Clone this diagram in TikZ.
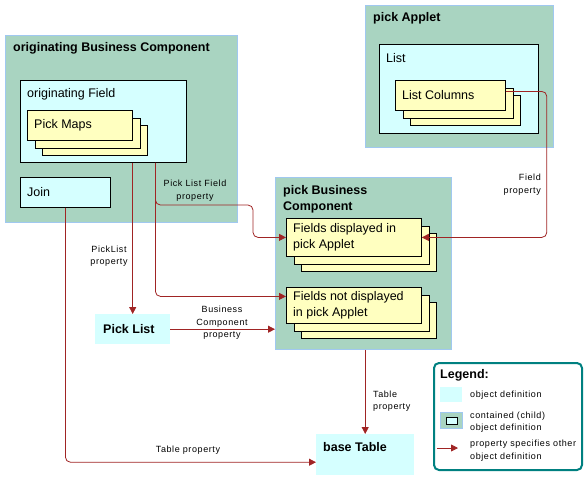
\documentclass[tikz,border=0pt]{standalone}
\usepackage{fontspec}
\setmainfont{Liberation Sans}
\newfontfamily\petitefonte[LetterSpace=6.5]{Liberation Sans}
\usetikzlibrary{positioning, arrows.meta, calc}
\definecolor{vertboite}{RGB}{169,212,193}
\definecolor{bordvert}{RGB}{160,200,240}
\definecolor{cyanclair}{RGB}{213,255,255}
\definecolor{jauneclair}{RGB}{255,255,192}
\definecolor{rougefleche}{RGB}{160,36,36}
\definecolor{sarcelle}{RGB}{0,128,128}

\tikzset{
  conteneur/.style={fill=vertboite, draw=bordvert, line width=0.8pt, anchor=north west, inner sep=0pt},
  objet/.style={fill=cyanclair, anchor=north west, inner sep=0pt},
  enfant/.style={fill=cyanclair, draw=black, line width=0.8pt, anchor=north west, inner sep=0pt},
  carte/.style={fill=jauneclair, draw=black, line width=0.8pt, anchor=north west, inner sep=0pt},
  cadre/.style={draw=sarcelle, line width=2pt, rounded corners=5pt, anchor=north west, inner sep=0pt},
  lien/.style={draw=rougefleche, line width=0.8pt, rounded corners=5pt, -{Triangle[length=7pt,width=7pt]}},
  etiq/.style={font=\petitefonte\fontsize{9}{12.5}\selectfont, align=center, inner sep=0pt},
  titre/.style={font=\bfseries\fontsize{12.5}{16}\selectfont, anchor=west, inner sep=0pt},
  texte/.style={font=\fontsize{12.5}{16}\selectfont, anchor=west, inner sep=0pt, align=left}
}

% pile de trois cartes : nom, x, y, largeur, hauteur, texte
\newcommand{\pilecartes}[6]{%
  \foreach \d in {15,8}{
    \node[carte, minimum width=#4, minimum height=#5] at ({#2+\d},{#3+\d}) {};
  }
  \node[carte, minimum width=#4, minimum height=#5] (#1) at (#2,#3) {};
  \node[texte] at ([xshift=7]#1.west) {#6};
}

\begin{document}
\begin{tikzpicture}[x=1pt, y=-1pt]
  \useasboundingbox (0,0) rectangle (585,482);

  % composant d'origine
  \node[conteneur, minimum width=232, minimum height=187] (origBC) at (5,35) {};
  \node[titre] at ([shift={(8,13)}]origBC.north west) {originating Business Component};
  \node[enfant, minimum width=166, minimum height=82] (origField) at (20,80) {};
  \node[texte] at ([shift={(7,14)}]origField.north west) {originating Field};
  \pilecartes{pickMaps}{27}{110}{105}{30}{Pick Maps}
  \node[enfant, minimum width=90, minimum height=30] (join) at (20,177) {};
  \node[texte] at ([xshift=7]join.west) {Join};

  % applet
  \node[conteneur, minimum width=188, minimum height=142] (pickApplet) at (365,5) {};
  \node[titre] at ([shift={(8,13)}]pickApplet.north west) {pick Applet};
  \node[enfant, minimum width=159, minimum height=89] (list) at (379,44) {};
  \node[texte] at ([shift={(7,14)}]list.north west) {List};
  \pilecartes{listCols}{395}{80}{110}{30}{List Columns}

  % composant de la liste
  \node[conteneur, minimum width=176, minimum height=172] (pickBC) at (275,177) {};
  \node[titre, align=left] at ([shift={(8,22)}]pickBC.north west) {pick Business\\Component};
  \pilecartes{fieldsDisp}{286}{218}{135}{38}{Fields displayed in\\pick Applet}
  \pilecartes{fieldsNot}{286}{287}{135}{36}{Fields not displayed\\in pick Applet}

  % objets simples
  \node[objet, minimum width=75, minimum height=30] (pickList) at (95,314) {};
  \node[titre] at ([xshift=8]pickList.west) {Pick List};
  \node[objet, minimum width=98, minimum height=41] (baseTable) at (316,434) {};
  \node[titre] at ([shift={(7,13)}]baseTable.north west) {base Table};

  % liens
  \draw[lien] (pickList.north |- origField.south) -- (pickList.north);
  \draw[lien] ([xshift=52]origField.south) |- (253,205) |- (fieldsDisp.west);
  \draw[lien] ([xshift=52]origField.south) |- ([yshift=9]fieldsNot.west);
  \draw[lien] (join.south) |- ([yshift=-7.5]baseTable.west);
  \draw[lien] (pickList.east) -- (pickList.east -| pickBC.west);
  \draw[lien] ([yshift=4]listCols.east) -| ([xshift=125]fieldsDisp.east) -- (fieldsDisp.east);
  \draw[lien] (baseTable.north |- pickBC.south) -- (baseTable.north);

  \node[etiq] at (109,256) {PickList\\property};
  \node[etiq] at (195,190.5) {Pick List Field\\property};
  \node[etiq] at (222,323) {Business\\Component\\property};
  \node[etiq] at (188,450) {Table property};
  \node[etiq, align=right, anchor=east] at (541,184.5) {Field\\property};
  \node[etiq, align=left, anchor=west] at (373,401) {Table\\property};

  % légende
  \node[cadre, minimum width=148, minimum height=107] (legende) at (433,362) {};
  \node[titre] at ([shift={(7,13)}]legende.north west) {Legend:};
  \fill[cyanclair] (440,387) rectangle (462,402);
  \node[etiq, anchor=west] at (470,395) {object definition};
  \fill[vertboite, draw=bordvert] (440,412) rectangle (462,428);
  \draw[fill=cyanclair, line width=0.8pt] (446,417) rectangle (457,424);
  \node[etiq, anchor=west, align=left] at (470,422) {contained (child)\\object definition};
  \coordinate (legA) at (437,448);
  \coordinate (legB) at (458,448);
  \draw[lien] (legA) -- (legB);
  \node[etiq, anchor=west, align=left] at (470,450.5) {property specifies other\\object definition};
\end{tikzpicture}
\end{document}
